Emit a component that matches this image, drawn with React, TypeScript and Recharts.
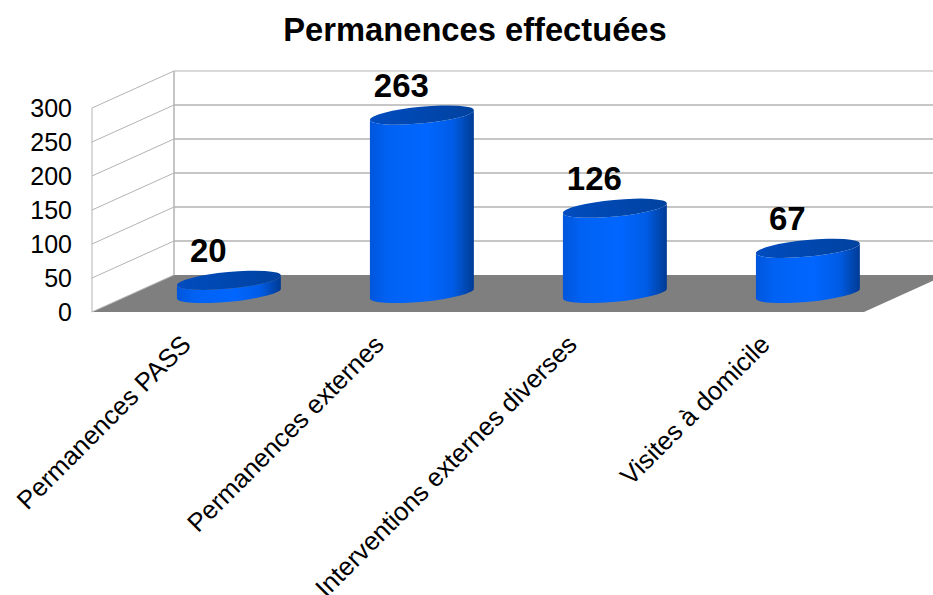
import { BarChart, Bar, XAxis, YAxis, CartesianGrid, LabelList } from 'recharts'

const categories = ['Permanences PASS', 'Permanences externes', 'Interventions externes diverses', 'Visites à domicile']
const permanences = [20, 263, 126, 67]
const yTicks = [0, 50, 100, 150, 200, 250, 300]

const data = categories.map((name, i) => ({ name, value: permanences[i] }))

const FONT = '"Liberation Sans", Arial, sans-serif'

// how far the back wall sits from the front edge of the floor
const DEPTH_X = 82
const DEPTH_Y = 37
const TILT = 5.4

function WallLine(props: any) {
  const { x1, x2, y1, index, y, height } = props
  const backX = x1 + DEPTH_X
  const backY = y1 - DEPTH_Y
  const isFloor = Math.abs(y1 - (y + height)) < 1
  const isTop = Math.abs(y1 - y) < 1
  return (
    <g key={index}>
      {isFloor && (
        <polygon
          points={`${x1},${y1} ${backX},${backY} ${x2 + DEPTH_X},${backY} ${x2},${y1}`}
          fill="#7f7f7f"
        />
      )}
      {isFloor && <line x1={x1} y1={y} x2={x1} y2={y1} stroke="#b3b3b3" strokeWidth={1} />}
      {isFloor && <line x1={backX} y1={y - DEPTH_Y} x2={backX} y2={backY} stroke="#b3b3b3" strokeWidth={1.5} />}
      {!isFloor && <line x1={backX} y1={backY} x2={933} y2={backY} stroke="#b3b3b3" strokeWidth={isTop ? 1 : 1.4} />}
      <line x1={x1} y1={y1} x2={backX} y2={backY} stroke="#b3b3b3" strokeWidth={1} />
    </g>
  )
}

function Cylinder(props: any) {
  const { x, y, width, height } = props
  const cx = x + width / 2 + DEPTH_X / 2 - 0.5
  const top = y - DEPTH_Y / 2 + 0.4
  const base = y + height - DEPTH_Y / 2
  const rx = 52.2
  const ry = 8.3
  const dx = rx * Math.cos((TILT * Math.PI) / 180)
  const dy = rx * Math.sin((TILT * Math.PI) / 180)
  const rot = -TILT
  const body =
    `M ${cx - dx} ${top + dy} L ${cx - dx} ${base + dy} ` +
    `A ${rx} ${ry} ${rot} 0 0 ${cx + dx} ${base - dy} ` +
    `L ${cx + dx} ${top - dy} ` +
    `A ${rx} ${ry} ${rot} 0 1 ${cx - dx} ${top + dy} Z`
  return (
    <g>
      <path d={body} fill="url(#cylBody)" />
      <ellipse
        cx={cx}
        cy={top}
        rx={rx}
        ry={ry}
        transform={`rotate(${rot} ${cx} ${top})`}
        fill="url(#cylTop)"
      />
    </g>
  )
}

function ValueLabel(props: any) {
  const { x, y, width, value } = props
  return (
    <text
      x={x + width / 2 + 20}
      y={y - 36.5}
      textAnchor="middle"
      fontFamily={FONT}
      fontWeight="bold"
      fontSize={33}
      fill="#000"
    >
      {value}
    </text>
  )
}

function CategoryTick(props: any) {
  const { x, payload } = props
  const ax = x + 4
  const ay = 346
  return (
    <text
      x={ax}
      y={ay}
      textAnchor="end"
      transform={`rotate(-45 ${ax} ${ay})`}
      fontFamily={FONT}
      fontSize={25.8}
      fill="#000"
    >
      {payload.value}
    </text>
  )
}

export default function App() {
  return (
    <div style={{ position: 'absolute', left: 0, top: 0, width: 933, height: 595, overflow: 'hidden', background: '#fff' }}>
      <div
        style={{
          position: 'absolute',
          left: 0,
          width: 950,
          top: 11,
          textAlign: 'center',
          fontFamily: FONT,
          fontWeight: 'bold',
          fontSize: 32.7,
          lineHeight: '38px',
          color: '#000',
        }}
      >
        Permanences effectuées
      </div>
      <BarChart
        width={933}
        height={595}
        data={data}
        margin={{ top: 108, right: 69, bottom: 0, left: 0 }}
        barCategoryGap="23%"
      >
        <defs>
          <linearGradient id="cylBody" x1="0" y1="0" x2="1" y2="0">
            <stop offset="0%" stopColor="#0056dc" />
            <stop offset="18%" stopColor="#0062f4" />
            <stop offset="55%" stopColor="#0066ff" />
            <stop offset="80%" stopColor="#005ce6" />
            <stop offset="93%" stopColor="#0047b0" />
            <stop offset="100%" stopColor="#003a94" />
          </linearGradient>
          <linearGradient id="cylTop" x1="0" y1="0" x2="1" y2="0">
            <stop offset="0%" stopColor="#004cbf" />
            <stop offset="100%" stopColor="#00429f" />
          </linearGradient>
        </defs>
        <CartesianGrid vertical={false} horizontal={(p: any) => <WallLine {...p} />} />
        <XAxis
          dataKey="name"
          height={283}
          interval={0}
          axisLine={false}
          tickLine={false}
          tick={(p: any) => <CategoryTick {...p} />}
        />
        <YAxis
          domain={[0, 300]}
          ticks={yTicks}
          width={92}
          axisLine={false}
          tickLine={false}
          tickMargin={14}
          tick={{ fill: '#000', fontSize: 25, fontFamily: FONT }}
        />
        <Bar dataKey="value" isAnimationActive={false} shape={(p: any) => <Cylinder {...p} />}>
          <LabelList dataKey="value" content={(p: any) => <ValueLabel {...p} />} />
        </Bar>
      </BarChart>
    </div>
  )
}
